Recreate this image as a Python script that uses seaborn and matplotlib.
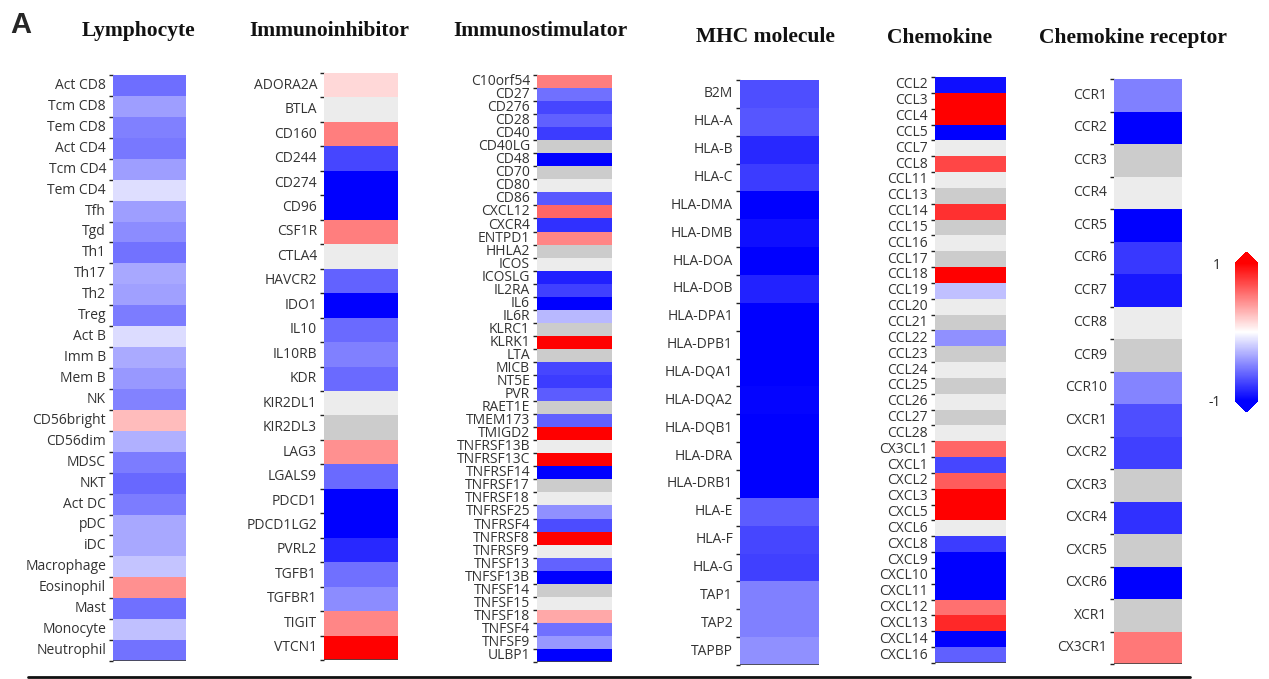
import numpy as np
import pandas as pd
import matplotlib
matplotlib.use("Agg")
import matplotlib.pyplot as plt
import seaborn as sns
from matplotlib.colors import LinearSegmentedColormap, ListedColormap, Normalize
from matplotlib.lines import Line2D
import matplotlib.cm as cm

# 'L' = non-significant (light grey), 'D' = non-significant (dark grey)
L, D = "L", "D"

lymph_labels = ["Act CD8", "Tcm CD8", "Tem CD8", "Act CD4", "Tcm CD4", "Tem CD4", "Tfh", "Tgd",
                "Th1", "Th17", "Th2", "Treg", "Act B", "Imm B", "Mem B", "NK", "CD56bright",
                "CD56dim", "MDSC", "NKT", "Act DC", "pDC", "iDC", "Macrophage", "Eosinophil",
                "Mast", "Monocyte", "Neutrophil"]
lymph_values = [-0.57, -0.38, -0.50, -0.53, -0.38, -0.13, -0.38, -0.45, -0.55, -0.34, -0.37, -0.51,
                -0.14, -0.33, -0.40, -0.49, 0.26, -0.31, -0.51, -0.59, -0.51, -0.34, -0.34, -0.23,
                0.43, -0.56, -0.25, -0.55]

inhib_labels = ["ADORA2A", "BTLA", "CD160", "CD244", "CD274", "CD96", "CSF1R", "CTLA4", "HAVCR2",
                "IDO1", "IL10", "IL10RB", "KDR", "KIR2DL1", "KIR2DL3", "LAG3", "LGALS9", "PDCD1",
                "PDCD1LG2", "PVRL2", "TGFB1", "TGFBR1", "TIGIT", "VTCN1"]
inhib_values = [0.15, L, 0.50, -0.72, -1.0, -1.0, 0.50, L, -0.61, -1.0, -0.58, -0.50, -0.58, L, D,
                0.43, -0.58, -1.0, -1.0, -0.84, -0.56, -0.45, 0.47, 1.0]

stim_labels = ["C10orf54", "CD27", "CD276", "CD28", "CD40", "CD40LG", "CD48", "CD70", "CD80", "CD86",
               "CXCL12", "CXCR4", "ENTPD1", "HHLA2", "ICOS", "ICOSLG", "IL2RA", "IL6", "IL6R",
               "KLRC1", "KLRK1", "LTA", "MICB", "NT5E", "PVR", "RAET1E", "TMEM173", "TMIGD2",
               "TNFRSF13B", "TNFRSF13C", "TNFRSF14", "TNFRSF17", "TNFRSF18", "TNFRSF25", "TNFRSF4",
               "TNFRSF8", "TNFRSF9", "TNFSF13", "TNFSF13B", "TNFSF14", "TNFSF15", "TNFSF18",
               "TNFSF4", "TNFSF9", "ULBP1"]
stim_values = [0.50, -0.56, -0.72, -0.62, -0.76, D, -1.0, D, L, -0.65,
               0.60, -0.81, 0.47, D, L, -0.87, -0.75, -1.0, -0.28,
               D, 1.0, D, -0.72, -0.76, -0.64, D, -0.62, 1.0,
               L, 1.0, -1.0, D, L, -0.43, -0.70,
               1.0, L, -0.61, -1.0, D, L, 0.34,
               -0.56, -0.40, -1.0]

mhc_labels = ["B2M", "HLA-A", "HLA-B", "HLA-C", "HLA-DMA", "HLA-DMB", "HLA-DOA", "HLA-DOB",
              "HLA-DPA1", "HLA-DPB1", "HLA-DQA1", "HLA-DQA2", "HLA-DQB1", "HLA-DRA", "HLA-DRB1",
              "HLA-E", "HLA-F", "HLA-G", "TAP1", "TAP2", "TAPBP"]
mhc_values = [-0.69, -0.66, -0.84, -0.76, -1.0, -0.94, -1.0, -0.86, -1.0, -1.0, -1.0, -0.98, -1.0,
              -1.0, -1.0, -0.64, -0.72, -0.75, -0.50, -0.50, -0.43]

chemo_labels = ["CCL2", "CCL3", "CCL4", "CCL5", "CCL7", "CCL8", "CCL11", "CCL13", "CCL14", "CCL15",
                "CCL16", "CCL17", "CCL18", "CCL19", "CCL20", "CCL21", "CCL22", "CCL23", "CCL24",
                "CCL25", "CCL26", "CCL27", "CCL28", "CX3CL1", "CXCL1", "CXCL2", "CXCL3", "CXCL5",
                "CXCL6", "CXCL8", "CXCL9", "CXCL10", "CXCL11", "CXCL12", "CXCL13", "CXCL14", "CXCL16"]
chemo_values = [-0.94, 1.0, 1.0, -1.0, L, 0.72, L, D, 0.81, D,
                L, D, 1.0, -0.25, L, D, -0.43, D, L,
                D, L, D, L, 0.60, -0.72, 0.64, 1.0, 1.0,
                L, -0.76, -1.0, -1.0, -1.0, 0.56, 0.84, -1.0, -0.62]

rec_labels = ["CCR1", "CCR2", "CCR3", "CCR4", "CCR5", "CCR6", "CCR7", "CCR8", "CCR9", "CCR10",
              "CXCR1", "CXCR2", "CXCR3", "CXCR4", "CXCR5", "CXCR6", "XCR1", "CX3CR1"]
rec_values = [-0.50, -1.0, D, L, -1.0, -0.78, -0.90, L, D, -0.48,
              -0.69, -0.75, D, -0.81, D, -1.0, D, 0.53]

titles = ["Lymphocyte", "Immunoinhibitor", "Immunostimulator", "MHC molecule", "Chemokine",
          "Chemokine receptor"]

sns.set_theme(style="white")
plt.rcParams["font.family"] = ["Open Sans", "DejaVu Sans"]

cmap = LinearSegmentedColormap.from_list("bwr_pure", ["#0000ff", "#ffffff", "#ff0000"])
grey_cmap = ListedColormap(["#ececec", "#cccccc"])

W, H = 1269, 679
fig = plt.figure(figsize=(W / 100, H / 100), dpi=100)

# pixel boxes (x0, x1, ytop, ybottom)
boxes = [(113, 186, 75, 661), (324, 398, 73, 660), (537, 612, 75, 662),
         (740, 819, 80, 665), (935, 1006, 77, 663), (1114, 1182, 79, 664)]
title_pos = [(138, 31), (329, 31), (540, 31), (765, 37), (940, 38), (1133, 38)]

panels = [(lymph_labels, lymph_values), (inhib_labels, inhib_values), (stim_labels, stim_values),
          (mhc_labels, mhc_values), (chemo_labels, chemo_values), (rec_labels, rec_values)]


def draw(ax, labels, values):
    vals = np.array([np.nan if isinstance(v, str) else float(v) for v in values])
    ns = np.array([{"L": 1.0, "D": 2.0}[v] if isinstance(v, str) else np.nan for v in values])
    df = pd.DataFrame({"v": vals}, index=labels)
    dfn = pd.DataFrame({"v": ns}, index=labels)
    sns.heatmap(dfn, ax=ax, cmap=grey_cmap, vmin=0.5, vmax=2.5, cbar=False,
                mask=dfn.isna(), xticklabels=False, yticklabels=labels)
    sns.heatmap(df, ax=ax, cmap=cmap, vmin=-1, vmax=1, cbar=False,
                mask=df.isna(), xticklabels=False, yticklabels=labels)
    n = len(labels)
    ax.set_yticks(np.arange(n) + 0.5)
    ax.set_yticklabels(labels, rotation=0, fontsize=10, color="#333333")
    ax.set_yticks(np.arange(n + 1), minor=True)
    ax.tick_params(axis="y", which="major", length=0, pad=5, left=False)
    ax.tick_params(axis="y", which="minor", length=3, width=1.0, color="#222222", left=True)
    ax.set_ylabel("")
    ax.set_xlabel("")
    ax.axhline(n, color="#444444", lw=1.2)


for (x0, x1, yt, yb), (labels, values), title, (tx, ty) in zip(boxes, panels, titles, title_pos):
    ax = fig.add_axes([x0 / W, 1 - yb / H, (x1 - x0) / W, (yb - yt) / H])
    draw(ax, labels, values)
    fig.text(tx / W, 1 - ty / H, title, ha="center", va="center", fontsize=15.5,
             fontweight="bold", family=["Liberation Serif", "DejaVu Serif"], color="#111111")

# colorbar
cax = fig.add_axes([1235 / W, 1 - 412 / H, 23 / W, 160 / H])
sm = cm.ScalarMappable(norm=Normalize(-1, 1), cmap=cmap)
cb = fig.colorbar(sm, cax=cax, extend="both", ticks=[-1, 1], extendfrac=0.08)
cb.outline.set_visible(False)
cax.yaxis.set_ticks_position("left")
cax.tick_params(length=0, labelsize=10, pad=10)
cb.set_ticklabels(["-1", "1"])

# panel letter
fig.text(21 / W, 1 - 25 / H, "A", ha="center", va="center", fontsize=21, fontweight="bold",
         family=["Liberation Sans", "DejaVu Sans"])

# bottom rule
fig.add_artist(Line2D([28 / W, 1190 / W], [1 - 677 / H, 1 - 677 / H], color="#111111", lw=2,
                      transform=fig.transFigure))

fig.savefig("out.png", dpi=100, facecolor="white")
